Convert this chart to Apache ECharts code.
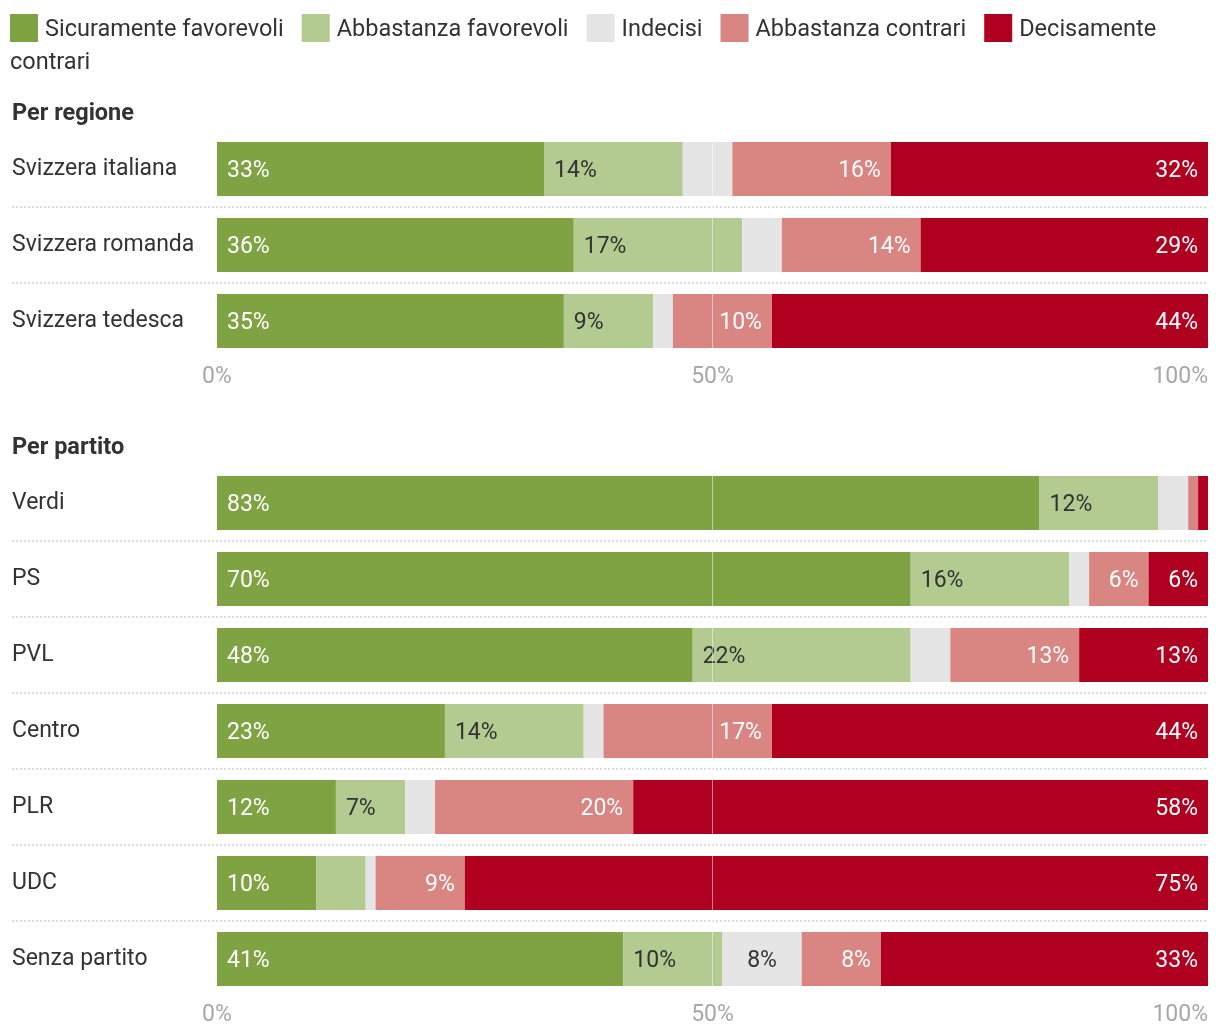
<!DOCTYPE html>
<html>
<head>
<meta charset="utf-8">
<script src="https://cdn.jsdelivr.net/npm/echarts@6/dist/echarts.min.js"></script>
<style>
  html, body { margin: 0; padding: 0; background: #fff; }
  #chart { width: 1220px; height: 1036px; }
</style>
</head>
<body>
<div id="chart"></div>
<script>
// ---------- DATA ----------
const seriesNames = ['Sicuramente favorevoli', 'Abbastanza favorevoli', 'Indecisi', 'Abbastanza contrari', 'Decisamente contrari'];

const regioni = ['Svizzera italiana', 'Svizzera romanda', 'Svizzera tedesca'];
const sicFavRegione   = [33, 36, 35];
const abbFavRegione   = [14, 17, 9];
const indecisiRegione = [5, 4, 2];
const abbConRegione   = [16, 14, 10];
const decConRegione   = [32, 29, 44];

const partiti = ['Verdi', 'PS', 'PVL', 'Centro', 'PLR', 'UDC', 'Senza partito'];
const sicFavPartito   = [83, 70, 48, 23, 12, 10, 41];
const abbFavPartito   = [12, 16, 22, 14, 7, 5, 10];
const indecisiPartito = [3, 2, 4, 2, 3, 1, 8];
const abbConPartito   = [1, 6, 13, 17, 20, 9, 8];
const decConPartito   = [1, 6, 13, 44, 58, 75, 33];

const xTickValues = [0, 50, 100];
const panelTitles = ['Per regione', 'Per partito'];

// ---------- STYLE ----------
const FONT = 'Roboto, "Noto Sans", sans-serif';
const colors = ['#7fa343', '#b3ca90', '#e5e5e5', '#d98682', '#b00020'];
const labelColors = ['#ffffff', '#333333', '#333333', '#ffffff', '#ffffff'];
const labelPos = ['insideLeft', 'insideLeft', 'inside', 'insideRight', 'insideRight'];

const gridLeft = 12, gridRight = 12;
const labelArea = 205;              // px from grid left to the 0% position
const plotWidth = 1220 - gridLeft - gridRight - labelArea;
const xMin = -100 * labelArea / plotWidth;

function makeSeries(gridIndex, arrays) {
  return arrays.map((arr, i) => {
    const s = {
      name: seriesNames[i],
      type: 'bar',
      stack: 'total' + gridIndex,
      xAxisIndex: gridIndex,
      yAxisIndex: gridIndex,
      data: arr,
      barWidth: 54,
      itemStyle: { color: colors[i] },
      label: {
        show: true,
        position: labelPos[i],
        distance: 10,
        offset: [0, 2],
        color: labelColors[i],
        fontFamily: FONT,
        fontSize: 23,
        formatter: p => (p.value >= 6 ? p.value + '%' : '')
      },
      emphasis: { disabled: true }
    };
    if (i === arrays.length - 1) {
      s.markLine = {
        silent: true,
        symbol: 'none',
        animation: false,
        label: { show: false },
        lineStyle: { color: 'rgba(255,255,255,0.5)', type: 'solid', width: 1 },
        data: [{ xAxis: 50 }]
      };
    }
    return s;
  });
}

function makeXAxis(gridIndex) {
  return {
    type: 'value',
    gridIndex: gridIndex,
    min: xMin,
    max: 100,
    axisLine: { show: false },
    axisTick: { show: false },
    splitLine: { show: false },
    axisLabel: {
      customValues: xTickValues,
      formatter: '{value}%',
      color: '#a8a8a8',
      fontFamily: FONT,
      fontSize: 23,
      margin: 7,
      alignMinLabel: 'center',
      alignMaxLabel: 'right'
    }
  };
}

function makeYAxis(gridIndex, cats) {
  return {
    type: 'category',
    gridIndex: gridIndex,
    data: cats,
    inverse: true,
    axisLine: { show: false, onZero: false },
    axisTick: { show: false },
    axisLabel: {
      inside: true,
      margin: 0,
      align: 'left',
      color: '#333333',
      fontFamily: FONT,
      fontSize: 23,
      padding: [4, 0, 0, 0],
      interval: 0
    },
    splitLine: {
      show: true,
      interval: 0,
      showMinLine: false,
      showMaxLine: false,
      lineStyle: { color: '#dcdcdc', type: [2, 2], width: 2 }
    }
  };
}

const chart = echarts.init(document.getElementById('chart'), null, { renderer: 'canvas' });

chart.setOption({
  animation: false,
  textStyle: { fontFamily: FONT },
  title: [
    { text: panelTitles[0], left: 12, top: 102, padding: 0,
      textStyle: { fontFamily: FONT, fontSize: 23.5, fontWeight: 'bold', color: '#333333' } },
    { text: panelTitles[1], left: 12, top: 436, padding: 0,
      textStyle: { fontFamily: FONT, fontSize: 23.5, fontWeight: 'bold', color: '#333333' } },
    { text: 'contrari', left: 10, top: 51, padding: 0,
      textStyle: { fontFamily: FONT, fontSize: 23.5, fontWeight: 'normal', color: '#333333' } }
  ],
  legend: {
    data: seriesNames,
    left: 10,
    top: 14,
    padding: 0,
    itemWidth: 28,
    itemHeight: 28,
    itemGap: 18,
    icon: 'rect',
    selectedMode: false,
    formatter: name => '{t|' + (name === 'Decisamente contrari' ? 'Decisamente' : name) + '}',
    textStyle: {
      fontFamily: FONT, fontSize: 23.5, color: '#333333',
      rich: { t: { fontFamily: FONT, fontSize: 23.5, color: '#333333', padding: [4, 0, 0, 2] } }
    }
  },
  grid: [
    { left: gridLeft, right: gridRight, top: 131, height: 228, containLabel: false },
    { left: gridLeft, right: gridRight, top: 465, height: 532, containLabel: false }
  ],
  xAxis: [makeXAxis(0), makeXAxis(1)],
  yAxis: [makeYAxis(0, regioni), makeYAxis(1, partiti)],
  series: [
    ...makeSeries(0, [sicFavRegione, abbFavRegione, indecisiRegione, abbConRegione, decConRegione]),
    ...makeSeries(1, [sicFavPartito, abbFavPartito, indecisiPartito, abbConPartito, decConPartito])
  ]
});
</script>
</body>
</html>
